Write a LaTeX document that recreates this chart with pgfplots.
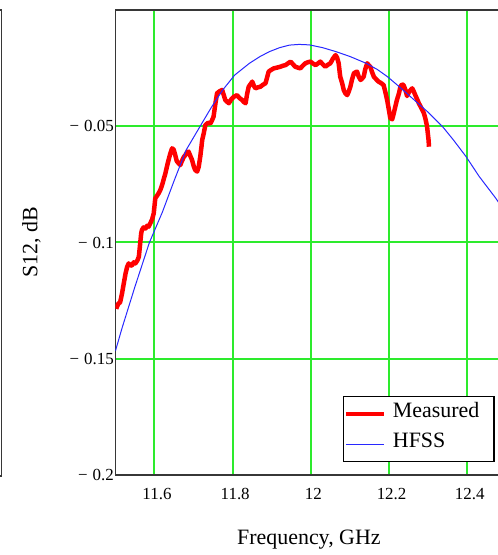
\documentclass[border=0pt]{standalone}
\usepackage{fontspec}
\setmainfont{Liberation Serif}
\usepackage{pgfplots}
\pgfplotsset{compat=1.18}
\definecolor{gridgreen}{RGB}{45,235,45}
\definecolor{hfssblue}{RGB}{40,40,255}
\definecolor{framegray}{RGB}{55,55,55}
\begin{document}
\begin{tikzpicture}
\useasboundingbox (0,0) rectangle (498bp,555bp);
\draw[framegray, line width=1.2bp] (0,545bp) -- (1.6bp,545bp) -- (1.6bp,79bp) -- (0,79bp);
\begin{axis}[
  at={(115.4bp,80bp)}, anchor=south west,
  scale only axis, width=387bp, height=465bp,
  xmin=11.5, xmax=12.4898, ymin=-0.2, ymax=0,
  axis line style={framegray, line width=1.4bp},
  xtick={11.6,11.8,12,12.2,12.4},
  xticklabels={11.6,11.8,12,12.2,12.4},
  ytick={-0.2,-0.15,-0.1,-0.05},
  yticklabels={−\hspace{0.3em}0.2,−\hspace{0.3em}0.15,−\hspace{0.3em}0.1,−\hspace{0.3em}0.05},
  tick pos=left,
  major tick length=0pt,
  xmajorgrids=true, ymajorgrids=true,
  grid style={gridgreen, line width=2bp},
  major grid style={gridgreen, line width=2bp},
  tick label style={font=\fontsize{17}{20}\selectfont, text=black},
  xticklabel style={anchor=base, yshift=-24bp, xshift=2.5bp},
  yticklabel style={anchor=east, xshift=2bp},
  xlabel={Frequency, GHz},
  ylabel={S12, dB},
  xlabel style={at={(axis description cs:0.5,-0.1484)}, anchor=base, xshift=0bp, font=\fontsize{22}{26}\selectfont},
  ylabel style={at={(axis description cs:-0.2016,0.5)}, anchor=base, font=\fontsize{22}{26}\selectfont},
  legend style={at={(axis description cs:0.9798,0.1699)}, anchor=north east, draw=black, line width=1.2bp, fill=white,
    inner xsep=1bp, inner ysep=2.5bp, column sep=6.3bp, row sep=0pt,
    font=\fontsize{22}{26}\selectfont,
    nodes={inner sep=0pt, text height=0.66em, text depth=0pt, minimum height=30bp, text width=100bp},
    cells={anchor=west}},
  legend image code/.code={\draw[#1] (0bp,0bp) -- (38bp,0bp);},
]
\addplot[red, line width=4.5bp, line join=round] table {
11.502 -0.1285
11.504 -0.1276
11.508 -0.1262
11.512 -0.1258
11.517 -0.1219
11.521 -0.1180
11.526 -0.1133
11.530 -0.1105
11.534 -0.1090
11.539 -0.1100
11.543 -0.1097
11.547 -0.1085
11.551 -0.1090
11.556 -0.1078
11.560 -0.1061
11.563 -0.1010
11.566 -0.0960
11.568 -0.0946
11.572 -0.0935
11.577 -0.0940
11.581 -0.0928
11.585 -0.0932
11.590 -0.0915
11.594 -0.0900
11.598 -0.0875
11.602 -0.0810
11.606 -0.0800
11.610 -0.0790
11.615 -0.0774
11.620 -0.0750
11.624 -0.0725
11.628 -0.0702
11.632 -0.0672
11.636 -0.0645
11.640 -0.0620
11.645 -0.0595
11.649 -0.0600
11.653 -0.0624
11.657 -0.0650
11.662 -0.0660
11.666 -0.0667
11.670 -0.0650
11.675 -0.0632
11.679 -0.0624
11.683 -0.0612
11.687 -0.0609
11.691 -0.0625
11.696 -0.0645
11.700 -0.0670
11.704 -0.0688
11.709 -0.0695
11.713 -0.0675
11.717 -0.0631
11.720 -0.0590
11.722 -0.0559
11.726 -0.0530
11.730 -0.0495
11.737 -0.0485
11.743 -0.0488
11.747 -0.0475
11.751 -0.0459
11.756 -0.0400
11.760 -0.0358
11.766 -0.0350
11.773 -0.0344
11.777 -0.0365
11.781 -0.0387
11.786 -0.0395
11.790 -0.0401
11.796 -0.0385
11.803 -0.0373
11.807 -0.0370
11.811 -0.0366
11.817 -0.0378
11.824 -0.0387
11.828 -0.0395
11.833 -0.0401
11.837 -0.0360
11.841 -0.0330
11.846 -0.0318
11.850 -0.0308
11.854 -0.0325
11.858 -0.0337
11.864 -0.0333
11.871 -0.0330
11.877 -0.0322
11.884 -0.0315
11.888 -0.0290
11.892 -0.0265
11.898 -0.0258
11.905 -0.0251
11.913 -0.0248
11.922 -0.0244
11.928 -0.0240
11.935 -0.0237
11.941 -0.0230
11.948 -0.0222
11.954 -0.0233
11.960 -0.0244
11.967 -0.0248
11.973 -0.0251
11.979 -0.0240
11.986 -0.0229
11.992 -0.0225
11.999 -0.0222
12.005 -0.0230
12.012 -0.0237
12.018 -0.0230
12.024 -0.0222
12.030 -0.0233
12.037 -0.0244
12.043 -0.0236
12.050 -0.0229
12.056 -0.0210
12.063 -0.0194
12.067 -0.0205
12.071 -0.0229
12.075 -0.0287
12.080 -0.0315
12.084 -0.0344
12.088 -0.0358
12.093 -0.0366
12.097 -0.0350
12.101 -0.0330
12.105 -0.0300
12.110 -0.0272
12.114 -0.0268
12.118 -0.0265
12.122 -0.0285
12.127 -0.0301
12.131 -0.0295
12.135 -0.0287
12.139 -0.0255
12.144 -0.0229
12.148 -0.0238
12.152 -0.0244
12.156 -0.0265
12.161 -0.0287
12.167 -0.0298
12.173 -0.0308
12.180 -0.0315
12.186 -0.0323
12.190 -0.0350
12.195 -0.0387
12.199 -0.0425
12.203 -0.0465
12.208 -0.0470
12.212 -0.0444
12.216 -0.0415
12.220 -0.0387
12.225 -0.0360
12.229 -0.0330
12.233 -0.0320
12.237 -0.0323
12.242 -0.0345
12.246 -0.0370
12.252 -0.0350
12.259 -0.0337
12.263 -0.0350
12.267 -0.0366
12.272 -0.0385
12.276 -0.0401
12.282 -0.0420
12.289 -0.0444
12.293 -0.0468
12.297 -0.0500
12.299 -0.0530
12.301 -0.0560
12.302 -0.0588
};
\addlegendentry{Measured}
\addplot[hfssblue, line width=1bp] table {
11.500 -0.1467
11.517 -0.1368
11.550 -0.1190
11.587 -0.1000
11.620 -0.0870
11.650 -0.0735
11.681 -0.0602
11.715 -0.0505
11.745 -0.0420
11.774 -0.0345
11.805 -0.0280
11.843 -0.0229
11.870 -0.0200
11.894 -0.0179
11.920 -0.0162
11.945 -0.0151
11.970 -0.0148
11.996 -0.0150
12.030 -0.0162
12.064 -0.0179
12.100 -0.0200
12.141 -0.0229
12.170 -0.0256
12.196 -0.0287
12.226 -0.0330
12.269 -0.0394
12.300 -0.0440
12.337 -0.0502
12.365 -0.0560
12.397 -0.0631
12.430 -0.0715
12.473 -0.0810
12.490 -0.0852
};
\addlegendentry{HFSS}
\end{axis}
\end{tikzpicture}
\end{document}
